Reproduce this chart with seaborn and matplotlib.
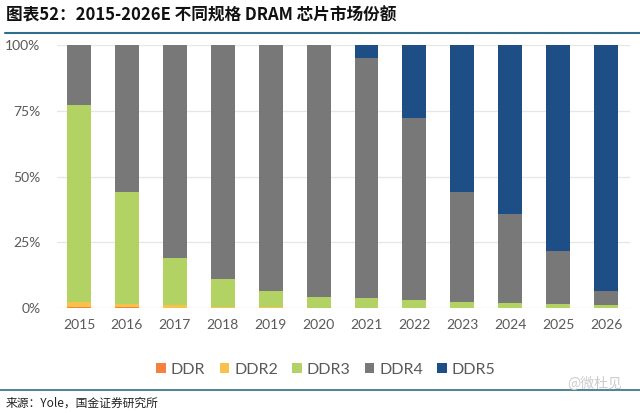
import numpy as np
import pandas as pd
import matplotlib
matplotlib.use('Agg')
import matplotlib.pyplot as plt
import seaborn as sns

sns.set_theme(style="white")
plt.rcParams['font.family'] = ['Lato', 'Noto Sans CJK SC', 'DejaVu Sans']

# market share (%) by DRAM generation
years = ["2015", "2016", "2017", "2018", "2019", "2020",
         "2021", "2022", "2023", "2024", "2025", "2026"]
ddr = [0.4, 0.2, 0, 0, 0, 0, 0, 0, 0, 0, 0, 0]
ddr2 = [2.0, 1.3, 1.0, 0.5, 0.2, 0, 0, 0, 0, 0, 0, 0]
ddr3 = [74.8, 42.6, 18.0, 10.4, 6.3, 4.3, 3.8, 3.0, 2.4, 1.8, 1.4, 1.0]
ddr4 = [22.8, 55.9, 81.0, 89.1, 93.5, 95.7, 91.3, 69.1, 41.7, 33.8, 20.1, 5.3]
ddr5 = [0, 0, 0, 0, 0, 0, 4.9, 27.9, 55.9, 64.4, 78.5, 93.7]

series = ["DDR", "DDR2", "DDR3", "DDR4", "DDR5"]
colors = ["#f4823c", "#f8c24a", "#b3d264", "#787878", "#1d4e86"]

df = pd.DataFrame({"year": years, "DDR": ddr, "DDR2": ddr2, "DDR3": ddr3,
                   "DDR4": ddr4, "DDR5": ddr5})
cum = df[series].cumsum(axis=1) / 100.0

fig = plt.figure(figsize=(6.4, 4.13), dpi=100)
ax = fig.add_axes([57 / 640, 1 - 308 / 413, (630 - 57) / 640, (308 - 45) / 413])

# draw cumulative totals from the top layer down so each overlays the previous
for name, col in zip(series[::-1], colors[::-1]):
    sns.barplot(x=df["year"], y=cum[name], color=col, width=0.5,
                saturation=1, ax=ax, label=name, zorder=3, linewidth=0)

handles, labels = ax.get_legend_handles_labels()
if ax.get_legend() is not None:
    ax.get_legend().remove()

ax.set_ylim(0, 1)
ax.set_xlim(-0.46, 11.5)
ax.set_yticks([0, 0.25, 0.5, 0.75, 1.0])
ax.set_yticklabels(["0%", "25%", "50%", "75%", "100%"])
ax.grid(axis="y", color="#e6e6e6", linewidth=0.9, zorder=0)
ax.set_axisbelow(True)
ax.set_xlabel("")
ax.set_ylabel("")
for s in ax.spines.values():
    s.set_visible(False)
ax.tick_params(axis="both", length=0, labelsize=10, colors="#595959")
ax.tick_params(axis="x", pad=8)
ax.tick_params(axis="y", pad=12)

order = [labels.index(n) for n in series]
leg = fig.legend([handles[i] for i in order], series, loc="center",
                 bbox_to_anchor=(326 / 640, 1 - 370 / 413), ncol=5, frameon=False,
                 fontsize=11.5, handlelength=0.6, handleheight=0.6,
                 handletextpad=0.3, columnspacing=0.9)
for t in leg.get_texts():
    t.set_color("#595959")

# header / footer
fig.text(6 / 640, 1 - 15 / 413, "图表52：2015-2026E 不同规格 DRAM 芯片市场份额",
         fontsize=12, fontweight="bold", va="center", ha="left",
         family=["Noto Sans CJK SC", "DejaVu Sans"], color="#111111")
fig.add_artist(plt.Line2D([5 / 640, 1], [1 - 33 / 413] * 2, color="#2f6d8c",
                          linewidth=1.5, transform=fig.transFigure))
fig.add_artist(plt.Line2D([0, 1], [1 - 390 / 413] * 2, color="#2f6d8c",
                          linewidth=1.2, transform=fig.transFigure))
fig.text(6 / 640, 1 - 403 / 413, "来源：Yole，国金证券研究所", fontsize=8.5,
         va="center", ha="left", family=["Noto Sans CJK SC", "DejaVu Sans"],
         color="#222222")
fig.text(622 / 640, 1 - 384 / 413, "@微杜见", fontsize=10, va="center",
         ha="right", family=["Noto Sans CJK SC", "DejaVu Sans"], color="#cccccc")

fig.savefig("out.png", dpi=100)
